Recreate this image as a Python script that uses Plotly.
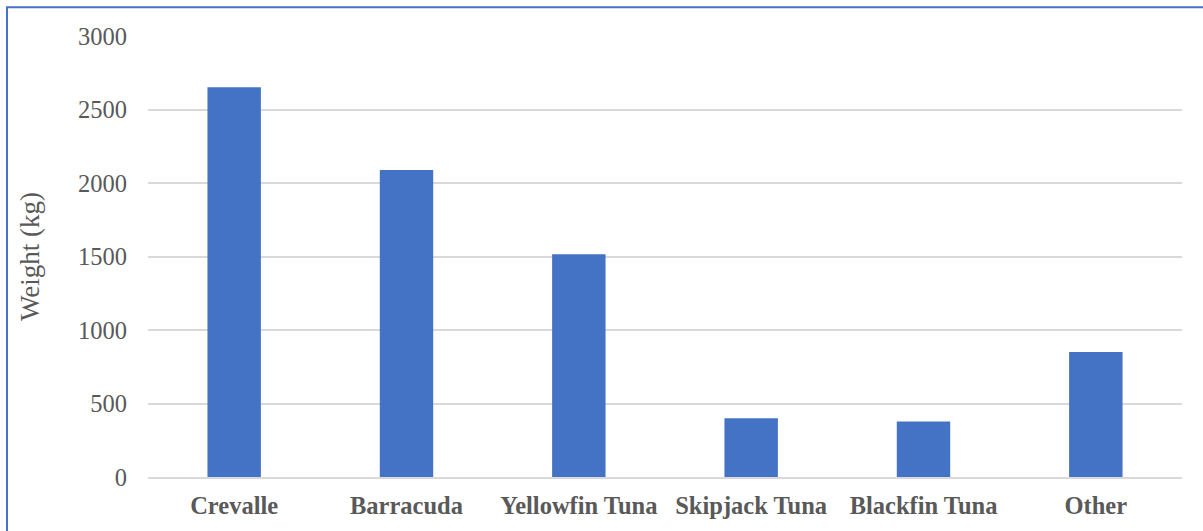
import plotly.graph_objects as go

# Catch weight by species
species = ["Crevalle", "Barracuda", "Yellowfin Tuna", "Skipjack Tuna", "Blackfin Tuna", "Other"]
weight_kg = [2652, 2088, 1516, 399, 378, 851]
y_ticks = [0, 500, 1000, 1500, 2000, 2500, 3000]

text_color = "#595959"
serif = "Liberation Serif, Times New Roman, serif"

fig = go.Figure(
    go.Bar(
        x=species,
        y=weight_kg,
        marker=dict(color="#4472C4", line=dict(width=0)),
    )
)

fig.update_layout(
    width=1203,
    height=531,
    margin=dict(l=148, r=21, t=36, b=51),
    paper_bgcolor="white",
    plot_bgcolor="white",
    bargap=0.69,
    showlegend=False,
    font=dict(family=serif, color=text_color, size=24),
    shapes=[
        # chart frame
        dict(
            type="rect", xref="paper", yref="paper",
            x0=-141 / 1034, x1=1.5, y0=-0.5, y1=1 + 29 / 444,
            line=dict(color="#4472C4", width=2), fillcolor="rgba(0,0,0,0)",
            layer="below",
        )
    ],
)

fig.update_xaxes(
    showgrid=False,
    showline=True,
    linecolor="#d9d9d9",
    linewidth=2,
    ticks="",
    tickfont=dict(family=serif, size=24.5, color=text_color, weight="bold"),
    ticklabelstandoff=6,
)

fig.update_yaxes(
    range=[0, 3000],
    tickvals=y_ticks,
    showgrid=True,
    gridcolor="#d9d9d9",
    gridwidth=2,
    zeroline=False,
    showline=False,
    ticks="",
    tickfont=dict(family=serif, size=24.5, color=text_color),
    ticklabelstandoff=20,
    title=dict(text="Weight (kg)", font=dict(family=serif, size=27, color=text_color), standoff=30),
)

fig.write_html("out.html")
